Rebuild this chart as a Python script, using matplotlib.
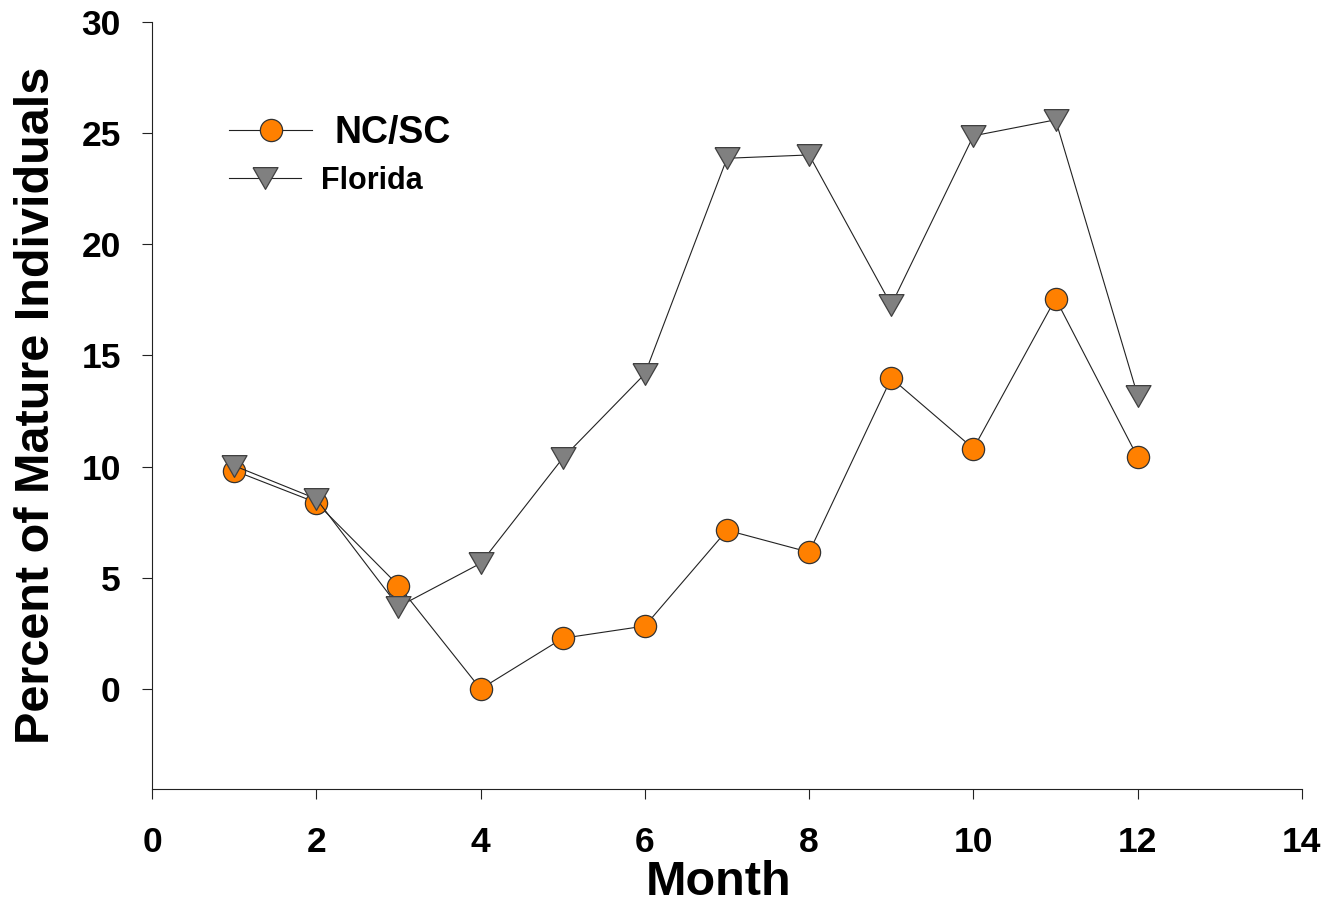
import numpy as np
import matplotlib.pyplot as plt
from matplotlib.lines import Line2D

plt.rcParams['font.family'] = ['Liberation Sans', 'DejaVu Sans']
plt.rcParams['font.weight'] = 'bold'

# Data
months = [1, 2, 3, 4, 5, 6, 7, 8, 9, 10, 11, 12]
ncsc = [9.82, 8.38, 4.65, 0.0, 2.28, 2.83, 7.14, 6.15, 13.98, 10.81, 17.56, 10.42]
florida = [10.04, 8.55, 3.7, 5.65, 10.38, 14.17, 23.87, 24.02, 17.27, 24.88, 25.6, 13.19]
labels = ["NC/SC", "Florida"]

# wide, slightly flat down-triangle like the original
tri = [(-1, 0.87), (1, 0.87), (0, -0.87), (-1, 0.87)]

circ_style = dict(color='#222222', lw=0.8, marker='o', markersize=16,
                  markerfacecolor='#FF8000', markeredgecolor='#333333', markeredgewidth=0.9)
tri_style = dict(color='#222222', lw=0.8, marker=tri, markersize=18,
                 markerfacecolor='#808080', markeredgecolor='#404040', markeredgewidth=0.9)

fig = plt.figure(figsize=(13.28, 9.05), dpi=100)
ax = fig.add_axes([0.1145, 0.1282, 0.8659, 0.8475])

ax.plot(months, ncsc, zorder=3, **circ_style)
ax.plot(months, florida, zorder=3, **tri_style)

ax.set_xlim(0, 14)
ax.set_ylim(-4.5, 30)
ax.set_xticks(np.arange(0, 15, 2))
ax.set_yticks(np.arange(0, 31, 5))

ax.spines['top'].set_visible(False)
ax.spines['right'].set_visible(False)
for s in ['left', 'bottom']:
    ax.spines[s].set_linewidth(0.8)
    ax.spines[s].set_color('#222222')

ax.tick_params(axis='both', direction='out', length=7.5, width=0.8, color='#222222',
               labelsize=25.5)
ax.tick_params(axis='x', pad=19)
ax.tick_params(axis='y', pad=15)

ax.set_xlabel("Month", fontsize=35, fontweight='bold', labelpad=1)
ax.xaxis.label.set_x(0.493)
ax.set_ylabel("Percent of Mature Individuals", fontsize=35, fontweight='bold', labelpad=16)

# two one-row legends so each row can have its own size, like the original
leg1 = ax.legend([Line2D([], [], **circ_style)], [labels[0]], loc='center left',
                 bbox_to_anchor=(0.067, 0.8557), frameon=False, fontsize=27,
                 handlelength=2.21, handletextpad=0.61, borderpad=0, borderaxespad=0)
ax.add_artist(leg1)
ax.legend([Line2D([], [], **tri_style)], [labels[1]], loc='center left',
          bbox_to_anchor=(0.067, 0.793), frameon=False, fontsize=22,
          handlelength=2.35, handletextpad=0.65, borderpad=0, borderaxespad=0)

fig.savefig('out.png', dpi=100)
